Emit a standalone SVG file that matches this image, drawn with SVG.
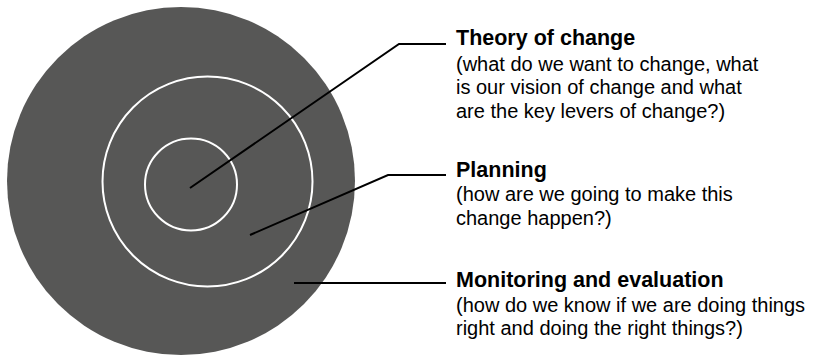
<svg xmlns="http://www.w3.org/2000/svg" width="813" height="355" viewBox="0 0 813 355">
<style>
.ring{fill:none;stroke:#ffffff;stroke-width:2}
.lead{fill:none;stroke:#000000;stroke-width:2}
.title{font-family:"Liberation Sans",Arial,sans-serif;font-weight:bold;font-size:21.5px;fill:#000}
.desc{font-family:"Liberation Sans",Arial,sans-serif;font-size:20px;fill:#000}
</style>
<rect width="813" height="355" fill="#ffffff"/>
<g id="target">
<circle cx="181" cy="181" r="174" fill="#575756"/>
<circle class="ring" cx="207.5" cy="181.5" r="105"/>
<circle class="ring" cx="191" cy="184.5" r="46"/>
</g>
<g id="connectors">
<polyline class="lead" points="190,188 399,44 446,44"/>
<polyline class="lead" points="250,235 388,175 446,175"/>
<polyline class="lead" points="294,283 446,283"/>
</g>
<g id="theory">
<text class="title" x="456" y="45">Theory of change</text>
<text class="desc" x="456" y="70.5">(what do we want to change, what</text>
<text class="desc" x="456" y="94">is our vision of change and what</text>
<text class="desc" x="456" y="117.5">are the key levers of change?)</text>
</g>
<g id="planning">
<text class="title" x="456" y="176.5">Planning</text>
<text class="desc" x="456" y="201">(how are we going to make this</text>
<text class="desc" x="456" y="224.5">change happen?)</text>
</g>
<g id="monitoring">
<text class="title" x="456" y="286.5">Monitoring and evaluation</text>
<text class="desc" x="456" y="311.5">(how do we know if we are doing things</text>
<text class="desc" x="456" y="335">right and doing the right things?)</text>
</g>
</svg>
